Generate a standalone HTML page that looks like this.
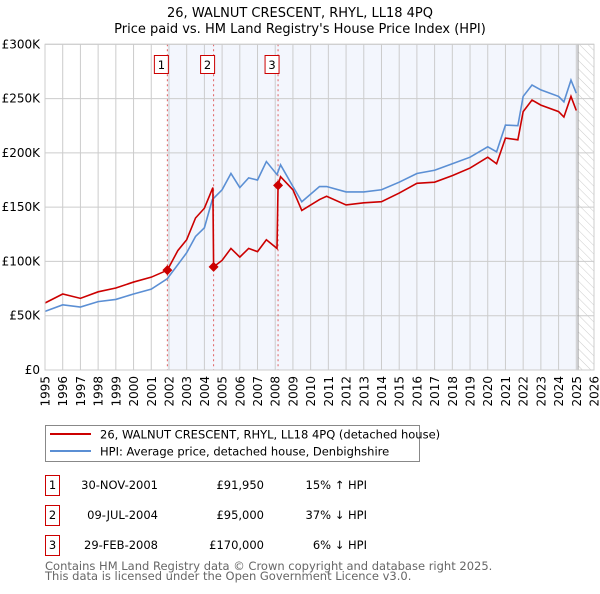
<!DOCTYPE html>
<html><head><meta charset="utf-8"><style>
body{margin:0;background:#fff;width:600px;height:590px;overflow:hidden;font-family:"DejaVu Sans","Liberation Sans",sans-serif;}
svg text{font-family:"DejaVu Sans","Liberation Sans",sans-serif;}
</style></head><body>
<svg id="chart" width="600" height="590" xmlns="http://www.w3.org/2000/svg">
<defs><pattern id="hatch" patternUnits="userSpaceOnUse" width="6" height="6" patternTransform="rotate(-45)"><line x1="0" y1="0" x2="0" y2="6" stroke="#ccc" stroke-width="1"/></pattern></defs>
<text x="300" y="17" text-anchor="middle" font-size="13" fill="#000">26, WALNUT CRESCENT, RHYL, LL18 4PQ</text>
<text x="300" y="33" text-anchor="middle" font-size="13" fill="#000">Price paid vs. HM Land Registry's House Price Index (HPI)</text>
<g id="plot"></g>
<g>
<rect x="45.5" y="425.5" width="374" height="36" fill="#fff" stroke="#888"/>
<line x1="50" y1="434" x2="91" y2="434" stroke="#cc0000" stroke-width="2"/>
<text x="100" y="438.5" font-size="11.5">26, WALNUT CRESCENT, RHYL, LL18 4PQ (detached house)</text>
<line x1="50" y1="451" x2="91" y2="451" stroke="#5b8fd4" stroke-width="2"/>
<text x="100" y="455.5" font-size="11.5">HPI: Average price, detached house, Denbighshire</text>
</g>
<g font-size="11.5">
<rect x="45.5" y="475.5" width="14" height="20" fill="#fff" stroke="#cc0000"/><text x="52.5" y="489" text-anchor="middle">1</text>
<text x="158" y="489" text-anchor="end">30-NOV-2001</text><text x="264" y="489" text-anchor="end">£91,950</text><text x="367" y="489" text-anchor="end">15% ↑ HPI</text>
<rect x="45.5" y="505.5" width="14" height="20" fill="#fff" stroke="#cc0000"/><text x="52.5" y="519" text-anchor="middle">2</text>
<text x="158" y="519" text-anchor="end">09-JUL-2004</text><text x="264" y="519" text-anchor="end">£95,000</text><text x="367" y="519" text-anchor="end">37% ↓ HPI</text>
<rect x="45.5" y="535.5" width="14" height="20" fill="#fff" stroke="#cc0000"/><text x="52.5" y="549" text-anchor="middle">3</text>
<text x="158" y="549" text-anchor="end">29-FEB-2008</text><text x="264" y="549" text-anchor="end">£170,000</text><text x="367" y="549" text-anchor="end">6% ↓ HPI</text>
</g>
<text x="45" y="570" font-size="11.5" fill="#666">Contains HM Land Registry data © Crown copyright and database right 2025.</text>
<text x="45" y="580" font-size="11.5" fill="#666">This data is licensed under the Open Government Licence v3.0.</text>
</svg>
<script>
const hpiYears=[1995,1996,1997,1998,1999,2000,2001,2001.9,2002.5,2003,2003.5,2004,2004.45,2005,2005.5,2006,2006.5,2007,2007.5,2008.1,2008.3,2009,2009.5,2010.5,2010.9,2012,2013,2014,2015,2016,2017,2018,2019,2020,2020.5,2021,2021.7,2022,2022.5,2023,2024,2024.3,2024.7,2025];
const hpiValues=[54,60,58,63,65,70,74.5,84,97,108,123,131,157,166,181,168,177,175,192,180,189,169,155,169,169,164,164,166,173,181,184,190,196,205.6,201,225.6,225,252,262.5,258,252,247,267,255];
const priceYears=[1995,1996,1997,1998,1999,2000,2001,2001.91,2002.5,2003,2003.5,2004,2004.48,2004.52,2005,2005.5,2006,2006.5,2007,2007.5,2008.1,2008.16,2008.3,2009,2009.5,2010.5,2010.9,2012,2013,2014,2015,2016,2017,2018,2019,2020,2020.5,2021,2021.7,2022,2022.5,2023,2024,2024.3,2024.7,2025];
const priceValues=[61.7,70,66,72,75.5,81,85.5,91.95,110,120,140,149,168,95,101,112,104,112,109,120,112,170,178,166,147,157,160,152,154,155,163,172,173,179,186,196,190,213.6,212,238,248.7,244,238,233,252,239];
const saleYears=[2001.91,2004.52,2008.16];
const salePrices=[91.95,95,170];
const saleLabels=["1","2","3"];
const yTicks=[0,50,100,150,200,250,300];
const yTickLabels=["£0","£50K","£100K","£150K","£200K","£250K","£300K"];
const xTicks=[];for(let y=1995;y<=2026;y++)xTicks.push(y);

const X0=45,X1=594,Y0=370,Y1=44.3;
const x=v=>X0+(v-1995)*(X1-X0)/31;
const y=v=>Y0-v*(Y0-Y1)/300;
const NS="http://www.w3.org/2000/svg";
const g=document.getElementById('plot');
function mk(t,a){const e=document.createElementNS(NS,t);for(const k in a)e.setAttribute(k,a[k]);g.appendChild(e);return e;}
let e;
e=mk('rect',{x:x(saleYears[0]),y:Y1,width:x(2025.1)-x(saleYears[0]),height:Y0-Y1,fill:'#f3f6fd'});


e=mk('rect',{x:x(2025.1),y:Y1,width:X1-x(2025.1),height:Y0-Y1,fill:'url(#hatch)'});


yTicks.forEach((t,i)=>{
 e=mk('line',{x1:X0,x2:X1,y1:y(t),y2:y(t),stroke:'#ccc','stroke-width':1});
 
 
 e=mk('text',{x:40,y:y(t)+4,'text-anchor':'end','font-size':12});e.textContent=yTickLabels[i];
 
 
});
xTicks.forEach(t=>{
 e=mk('line',{x1:x(t),x2:x(t),y1:Y1,y2:Y0,stroke:'#ccc','stroke-width':1});
 
 
 const tx=x(t)+4.5,ty=376;
 e=mk('text',{x:tx,y:ty,'text-anchor':'end','font-size':12,transform:`rotate(-90 ${tx} ${ty})`});e.textContent=t;
 
 
});
e=mk('line',{x1:x(2025.1),x2:x(2025.1),y1:Y1,y2:Y0,stroke:'#999','stroke-width':1});


saleYears.forEach((s,i)=>{
 e=mk('line',{x1:x(s),x2:x(s),y1:Y1,y2:Y0,stroke:'#e06060','stroke-width':1,'stroke-dasharray':'2,3'});
 
 
});
e=mk('polyline',{points:hpiYears.map((t,i)=>x(t)+','+y(hpiValues[i])).join(' '),fill:'none',stroke:'#5b8fd4','stroke-width':1.6});


e=mk('polyline',{points:priceYears.map((t,i)=>x(t)+','+y(priceValues[i])).join(' '),fill:'none',stroke:'#cc0000','stroke-width':1.6});


saleYears.forEach((s,i)=>{
 const cx=x(s),cy=y(salePrices[i]);
 e=mk('polygon',{points:`${cx},${cy-5} ${cx+5},${cy} ${cx},${cy+5} ${cx-5},${cy}`,fill:'#cc0000'});
 
 
 e=mk('rect',{x:cx-13,y:55.5,width:14,height:18,fill:'#fff',stroke:'#cc0000'});
 
 
 e=mk('text',{x:cx-6,y:69,'text-anchor':'middle','font-size':11.5});e.textContent=saleLabels[i];
 
 
});
e=mk('rect',{x:X0,y:Y1,width:X1-X0,height:Y0-Y1,fill:'none',stroke:'#ccc'});


</script>
</body></html>
